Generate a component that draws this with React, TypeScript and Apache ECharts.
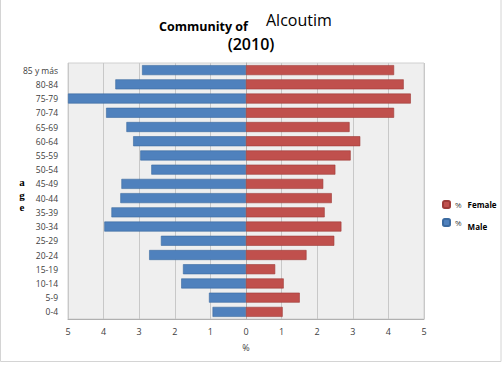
import React, { useEffect, useRef } from "react";
import * as echarts from "echarts";

const categories = ["0-4", "5-9", "10-14", "15-19", "20-24", "25-29", "30-34", "35-39", "40-44", "45-49", "50-54", "55-59", "60-64", "65-69", "70-74", "75-79", "80-84", "85 y más"];
const maleValues = [0.94, 1.04, 1.82, 1.77, 2.72, 2.39, 3.98, 3.78, 3.53, 3.5, 2.66, 2.97, 3.17, 3.36, 3.93, 5.0, 3.67, 2.92];
const femaleValues = [1.03, 1.51, 1.06, 0.82, 1.7, 2.48, 2.68, 2.21, 2.41, 2.17, 2.51, 2.94, 3.21, 2.91, 4.16, 4.63, 4.43, 4.16];
const ageLetters = ["a", "g", "e"];

const FONT = "'Open Sans', 'Liberation Sans', sans-serif";

export default function App() {
  const ref = useRef<HTMLDivElement>(null);
  useEffect(() => {
    if (!ref.current) return;
    const chart = echarts.init(ref.current, undefined, { renderer: "svg" });
    chart.setOption({
      animation: false,
      backgroundColor: "#ffffff",
      grid: {
        left: 68,
        right: 78,
        top: 63,
        bottom: 46,
        show: true,
        backgroundColor: "#efefef",
        borderColor: "#d0d0d0",
        borderWidth: 1,
      },
      legend: {
        orient: "vertical",
        left: 437,
        top: 195,
        itemWidth: 7,
        itemHeight: 7,
        itemGap: 9,
        data: ["% Female", "% Male"],
        formatter: (name: string) =>
          name === "% Female" ? "{p|%}{b|Female}" : "{p|%}{m|Male}",
        textStyle: {
          rich: {
            p: { fontFamily: FONT, fontSize: 8, color: "#404040" },
            b: { fontFamily: FONT, fontSize: 8, fontWeight: "bold", color: "#000", padding: [0, 0, 0, 6] },
            m: { fontFamily: FONT, fontSize: 8, fontWeight: "bold", color: "#000", padding: [8, 0, 0, 6] },
          },
        },
      },
      xAxis: {
        type: "value",
        min: -5,
        max: 5,
        interval: 1,
        name: "%",
        nameLocation: "middle",
        nameGap: 24,
        nameTextStyle: { fontFamily: FONT, fontSize: 9, color: "#404040" },
        axisLine: { show: true, lineStyle: { color: "#b0b0b0" } },
        axisTick: { show: false },
        axisLabel: {
          fontFamily: FONT,
          fontSize: 9,
          color: "#404040",
          margin: 8,
          formatter: (v: number) => String(Math.abs(v)),
        },
        splitLine: { show: true, lineStyle: { color: "#c8c8c8" } },
      },
      yAxis: {
        type: "category",
        data: categories,
        axisLine: { show: true, lineStyle: { color: "#b0b0b0" } },
        axisTick: { show: false },
        axisLabel: { fontFamily: FONT, fontSize: 8.5, color: "#404040", margin: 10 },
      },
      series: [
        {
          name: "% Male",
          type: "bar",
          data: maleValues.map((v) => -v),
          barWidth: 10,
          barGap: "-100%",
          itemStyle: { color: "#4f81bd", borderColor: "#3b6aa0", borderWidth: 0.6 },
        },
        {
          name: "% Female",
          type: "bar",
          data: femaleValues,
          barWidth: 10,
          barGap: "-100%",
          itemStyle: { color: "#c0504d", borderColor: "#9e3b38", borderWidth: 0.6 },
        },
      ],
      graphic: [
        {
          type: "rect",
          shape: { x: 0.5, y: -2, width: 500.5, height: 363.5 },
          style: { fill: "none", stroke: "#d4d4d4", lineWidth: 1 },
          silent: true,
        },
        {
          type: "text",
          x: 159,
          y: 26,
          style: { text: "Community of", font: `bold 12.5px ${FONT}`, fill: "#000", textVerticalAlign: "middle" },
        },
        {
          type: "text",
          x: 266,
          y: 20,
          style: { text: "Alcoutim", font: `16px ${FONT}`, fill: "#000", textVerticalAlign: "middle" },
        },
        {
          type: "text",
          x: 251,
          y: 44,
          style: { text: "(2010)", font: `600 16px ${FONT}`, fill: "#000", textAlign: "center", textVerticalAlign: "middle" },
        },
        ...ageLetters.map((ch, i) => ({
          type: "text",
          x: 22,
          y: 182 + i * 12.5,
          style: { text: ch, font: "bold 11px 'Liberation Serif', serif", fill: "#000", textAlign: "center", textVerticalAlign: "middle" },
        })),
      ],
    });
    return () => chart.dispose();
  }, []);
  return <div ref={ref} style={{ position: "fixed", left: 0, top: 0, width: 502, height: 365 }} />;
}
